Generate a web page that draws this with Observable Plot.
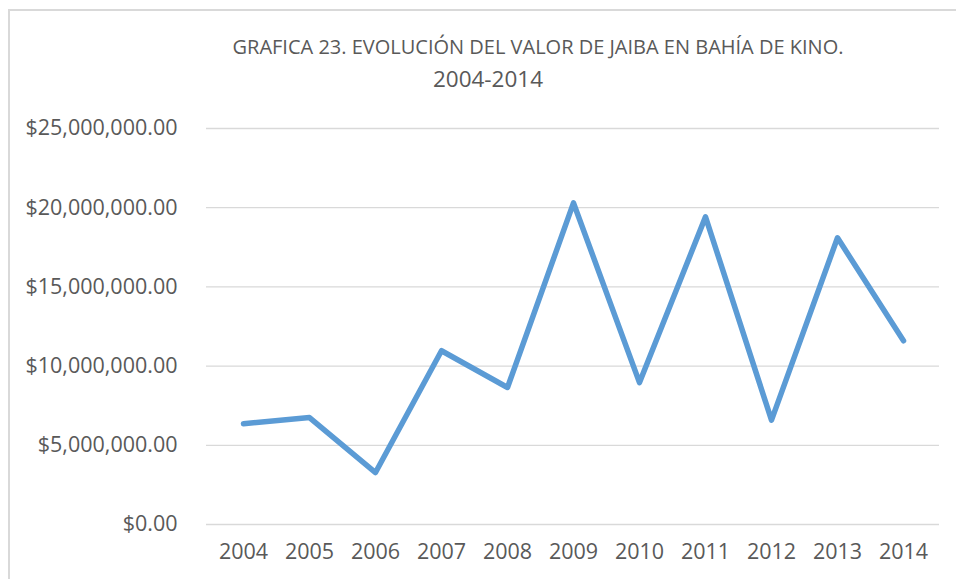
<!DOCTYPE html>
<html>
<head>
<meta charset="utf-8">
<script src="https://cdn.jsdelivr.net/npm/d3@7"></script>
<script src="https://cdn.jsdelivr.net/npm/@observablehq/plot@0.6"></script>
<style>
  html, body { margin: 0; padding: 0; background: #fff; overflow: hidden; }
  #wrap { position: relative; width: 956px; height: 579px; overflow: hidden; font-family: "Open Sans", sans-serif; }
  #frame { position: absolute; left: 8px; top: 9px; width: 2000px; height: 2000px; border-left: 2px solid #d9d9d9; border-top: 2px solid #d9d9d9; }
  .title { position: absolute; left: 0; text-align: center; color: #595959; white-space: nowrap; }
  #t1 { width: 1076px; top: 37px; font-size: 20px; line-height: 20px; }
  #t2 { width: 976px; top: 68px; font-size: 22.5px; line-height: 22px; }
  #chart { position: absolute; left: 0; top: 0; }
</style>
</head>
<body>
<div id="wrap">
  <div id="frame"></div>
  <div id="chart"></div>
  <div class="title" id="t1">GRAFICA 23. EVOLUCIÓN DEL VALOR DE JAIBA EN BAHÍA DE KINO.</div>
  <div class="title" id="t2">2004-2014</div>
</div>
<script>
const years = ["2004","2005","2006","2007","2008","2009","2010","2011","2012","2013","2014"];
const valores = [6360000, 6750000, 3280000, 10970000, 8650000, 20300000, 8960000, 19420000, 6590000, 18100000, 11600000];
const yTicks = [0, 5000000, 10000000, 15000000, 20000000, 25000000];

const data = years.map((y, i) => ({year: y, valor: valores[i]}));
const fmt = d => "$" + d3.format(",.2f")(d);

const chart = Plot.plot({
  width: 956,
  height: 579,
  marginLeft: 206,
  marginRight: 17,
  marginTop: 128,
  marginBottom: 55,
  style: { fontFamily: "Open Sans, sans-serif", background: "transparent", color: "#595959" },
  x: { type: "point", domain: years, padding: 0.5, label: null },
  y: { domain: [0, 25000000], label: null },
  marks: [
    Plot.gridY(yTicks, { stroke: "#d9d9d9", strokeOpacity: 1, strokeWidth: 1.3 }),
    Plot.axisY(yTicks, { tickSize: 0, tickPadding: 29, tickFormat: fmt, fontSize: 21.5, fill: "#595959", label: null }),
    Plot.axisX(years, { tickSize: 0, tickPadding: 19, fontSize: 21.5, fill: "#595959", label: null }),
    Plot.line(data, { x: "year", y: "valor", stroke: "#5b9bd5", strokeWidth: 5.5, strokeLinecap: "round", strokeLinejoin: "round" })
  ]
});
document.getElementById("chart").appendChild(chart);
</script>
</body>
</html>
